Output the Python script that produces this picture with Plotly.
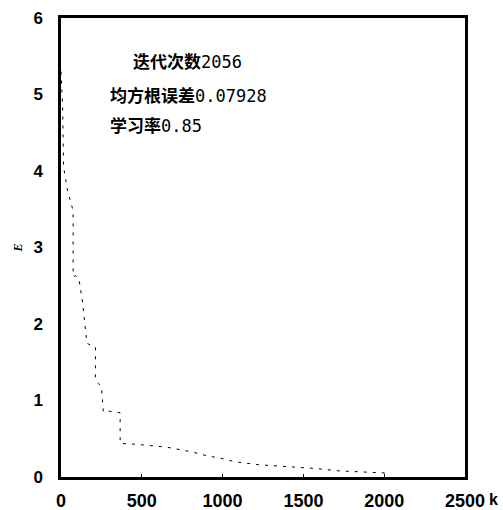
import plotly.graph_objects as go

# Data
iterations = [0, 3, 6, 10, 13, 16, 40, 75, 75, 90, 110, 134, 160, 185, 213, 213, 232, 250,
              262, 300, 366, 366, 450, 585, 654, 805, 920, 980, 1073, 1225, 1400, 1580,
              1720, 1870, 2030]
error = [5.3, 5.2, 5.05, 4.85, 4.45, 4.05, 3.75, 3.48, 2.62, 2.63, 2.60, 2.28, 1.75, 1.72,
         1.70, 1.30, 1.22, 1.18, 0.85, 0.86, 0.84, 0.44, 0.43, 0.41, 0.39, 0.33, 0.27,
         0.25, 0.20, 0.16, 0.14, 0.11, 0.08, 0.07, 0.05]

x_ticks = [0, 500, 1000, 1500, 2000, 2500]
y_ticks = [0, 1, 2, 3, 4, 5, 6]
y_tick_text = ["0", "1", "2", "3", "4", "5", "6"]

info_lines = [
    ("迭代次数", "2056"),
    ("均方根误差", "0.07928"),
    ("学习率", "0.85"),
]

fig = go.Figure()
fig.add_trace(go.Scatter(
    x=iterations, y=error, mode="lines",
    line=dict(color="black", width=1, dash="3px,6px"),
    showlegend=False, hoverinfo="skip",
))

tick_font_x = dict(family="Liberation Sans", size=18, color="black", weight="bold")
tick_font_y = dict(family="Liberation Sans", size=17, color="black", weight="bold")

fig.update_layout(
    width=503, height=510,
    margin=dict(l=61, r=38, t=18, b=33),
    paper_bgcolor="white", plot_bgcolor="white",
    xaxis=dict(
        range=[0, 2500], tickvals=x_ticks, ticktext=[str(v) for v in x_ticks],
        showgrid=False, zeroline=False, showline=True, linecolor="black",
        linewidth=2.5, mirror=True, ticks="inside", ticklen=3, tickcolor="black",
        tickfont=tick_font_x, ticklabelstandoff=6, automargin=False,
    ),
    yaxis=dict(
        range=[0, 6], tickvals=y_ticks, ticktext=y_tick_text,
        showgrid=False, zeroline=False, showline=True, linecolor="black",
        linewidth=2.5, mirror=True, ticks="", tickfont=tick_font_y,
        ticklabelstandoff=12, automargin=False,
        title=dict(text="<b><i>E</i></b>",
                   font=dict(family="Liberation Serif", size=12, color="black"),
                   standoff=9),
    ),
)

pos = [(0.173, 0.908), (0.116, 0.834), (0.116, 0.767)]
for (cjk, num), (px, py) in zip(info_lines, pos):
    fig.add_annotation(
        xref="paper", yref="paper", x=px, y=py, xanchor="left", yanchor="middle",
        showarrow=False,
        text=(f"<b>{cjk}</b><span style='font-family:DejaVu Sans Mono'>{num}</span>"),
        font=dict(family="Noto Sans CJK SC", size=17, color="black"),
    )

fig.add_annotation(
    xref="paper", yref="paper", x=1.087, y=-0.048, xanchor="right", yanchor="middle",
    showarrow=False, text="<b>k</b>",
    font=dict(family="Liberation Sans", size=16, color="black"),
)

fig.write_html("out.html", config={"displayModeBar": False},
               post_script="document.body.style.margin='0';")
